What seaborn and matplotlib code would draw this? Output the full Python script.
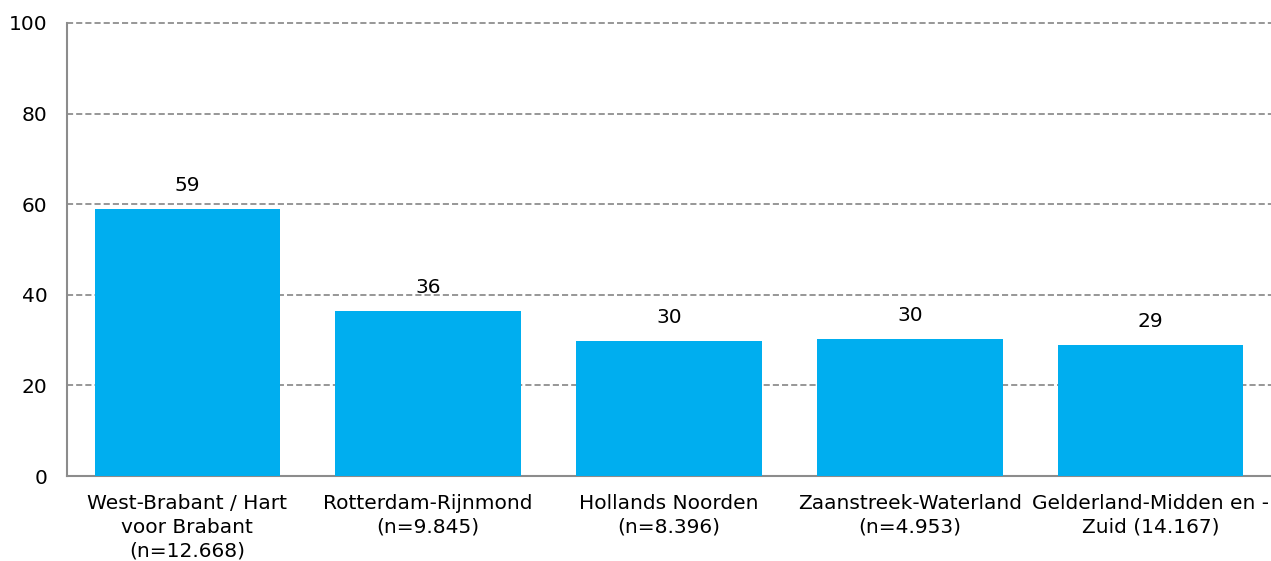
import matplotlib
matplotlib.use("Agg")
import matplotlib.pyplot as plt
import seaborn as sns
import pandas as pd

categories = [
    "West-Brabant / Hart\nvoor Brabant\n(n=12.668)",
    "Rotterdam-Rijnmond\n(n=9.845)",
    "Hollands Noorden\n(n=8.396)",
    "Zaanstreek-Waterland\n(n=4.953)",
    "Gelderland-Midden en -\nZuid (14.167)",
]
values = [58.9, 36.4, 29.8, 30.3, 28.9]
yticks = [0, 20, 40, 60, 80, 100]

sns.set_theme(style="white")
plt.rcParams["font.family"] = ["DejaVu Sans"]

df = pd.DataFrame({"regio": categories, "waarde": values})

fig = plt.figure(figsize=(12.71, 5.61), dpi=100)
ax = fig.add_axes([67 / 1271, 85 / 561, 1 - 67 / 1271, 453 / 561])

sns.barplot(data=df, x="regio", y="waarde", color="#00AEEF", saturation=1,
            width=0.77, ax=ax, zorder=3, edgecolor="none")

ax.set_ylim(0, 100)
ax.set_xlim(-0.5, 4.5)
ax.set_yticks(yticks)
ax.set_xlabel("")
ax.set_ylabel("")
ax.yaxis.grid(True, linestyle=(0, (4, 2)), color="#7a7a7a", linewidth=1.1, zorder=0)
for gl in ax.get_ygridlines():
    gl.set_clip_on(False)
ax.set_axisbelow(True)

for s in ["top", "right"]:
    ax.spines[s].set_visible(False)
for s in ["left", "bottom"]:
    ax.spines[s].set_color("#8c8c8c")
    ax.spines[s].set_linewidth(1.5)

ax.tick_params(axis="y", length=0, pad=14, labelsize=14.5, labelcolor="black")
ax.tick_params(axis="x", length=0, pad=13, labelsize=14.5, labelcolor="black")
for lbl in ax.get_xticklabels():
    lbl.set_linespacing(1.3)

for container in ax.containers:
    ax.bar_label(container, labels=[f"{v:.0f}" for v in values], padding=10,
                 fontsize=14.5, color="black")

fig.savefig("out.png", dpi=100)
